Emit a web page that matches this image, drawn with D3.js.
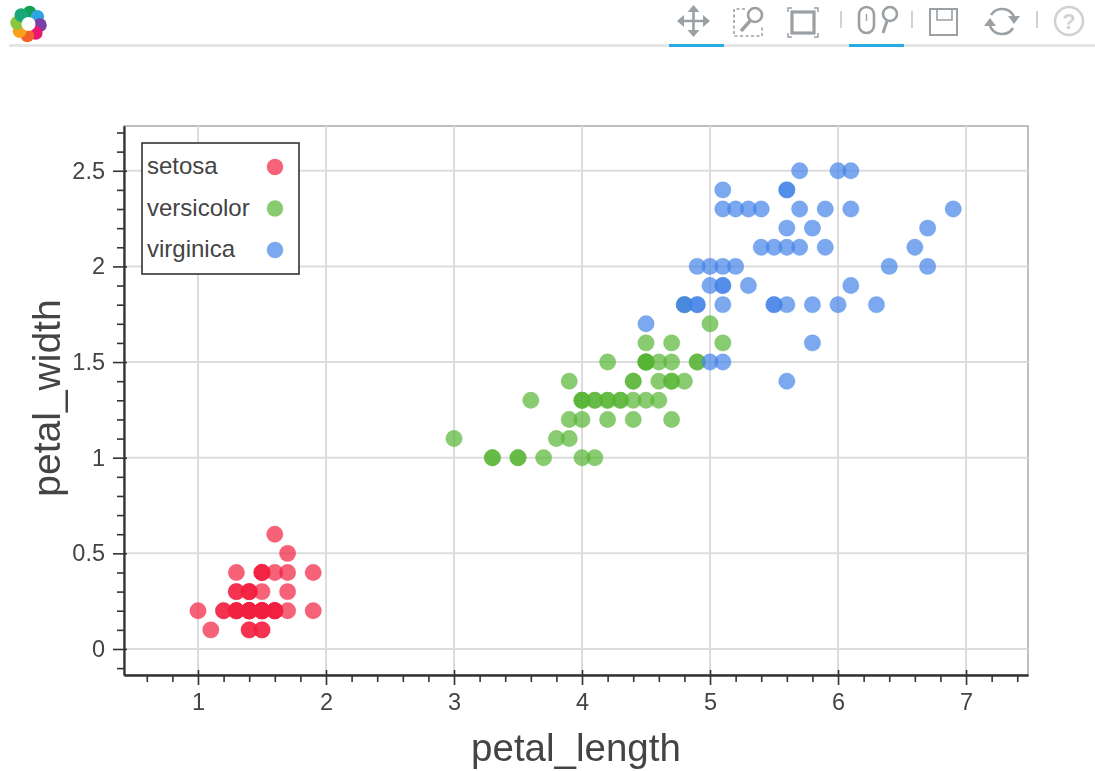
<!DOCTYPE html>
<html>
<head>
<meta charset="utf-8">
<script src="https://cdn.jsdelivr.net/npm/d3@7"></script>
<style>
    html, body { margin: 0; padding: 0; background: #fff; }
    svg { display: block; filter: blur(0.65px); font-family: "Liberation Sans", sans-serif; }
</style>
</head>
<body>
<div id="chart"></div>
<script>
const setosaLength = [1.4,1.4,1.3,1.5,1.4,1.7,1.4,1.5,1.4,1.5,1.5,1.6,1.4,1.1,1.2,1.5,1.3,1.4,1.7,1.5,1.7,1.5,1.0,1.7,1.9,1.6,1.6,1.5,1.4,1.6,1.6,1.5,1.5,1.4,1.5,1.2,1.3,1.4,1.3,1.5,1.3,1.3,1.3,1.6,1.9,1.4,1.6,1.4,1.5,1.4];
const setosaWidth = [0.2,0.2,0.2,0.2,0.2,0.4,0.3,0.2,0.2,0.1,0.2,0.2,0.1,0.1,0.2,0.4,0.4,0.3,0.3,0.3,0.2,0.4,0.2,0.5,0.2,0.2,0.4,0.2,0.2,0.2,0.2,0.4,0.1,0.2,0.2,0.2,0.2,0.1,0.2,0.2,0.3,0.3,0.2,0.6,0.4,0.3,0.2,0.2,0.2,0.2];
const versicolorLength = [4.7,4.5,4.9,4.0,4.6,4.5,4.7,3.3,4.6,3.9,3.5,4.2,4.0,4.7,3.6,4.4,4.5,4.1,4.5,3.9,4.8,4.0,4.9,4.7,4.3,4.4,4.8,5.0,4.5,3.5,3.8,3.7,3.9,5.1,4.5,4.5,4.7,4.4,4.1,4.0,4.4,4.6,4.0,3.3,4.2,4.2,4.2,4.3,3.0,4.1];
const versicolorWidth = [1.4,1.5,1.5,1.3,1.5,1.3,1.6,1.0,1.3,1.4,1.0,1.5,1.0,1.4,1.3,1.4,1.5,1.0,1.5,1.1,1.8,1.3,1.5,1.2,1.3,1.4,1.4,1.7,1.5,1.0,1.1,1.0,1.2,1.6,1.5,1.6,1.5,1.3,1.3,1.3,1.2,1.4,1.2,1.0,1.3,1.2,1.3,1.3,1.1,1.3];
const virginicaLength = [6.0,5.1,5.9,5.6,5.8,6.6,4.5,6.3,5.8,6.1,5.1,5.3,5.5,5.0,5.1,5.3,5.5,6.7,6.9,5.0,5.7,4.9,6.7,4.9,5.7,6.0,4.8,4.9,5.6,5.8,6.1,6.4,5.6,5.1,5.6,6.1,5.6,5.5,4.8,5.4,5.6,5.1,5.1,5.9,5.7,5.2,5.0,5.2,5.4,5.1];
const virginicaWidth = [2.5,1.9,2.1,1.8,2.2,2.1,1.7,1.8,1.8,2.5,2.0,1.9,2.1,2.0,2.4,2.3,1.8,2.2,2.3,1.5,2.3,2.0,2.0,1.8,2.1,1.8,1.8,1.8,2.1,1.6,1.9,2.0,2.2,1.5,1.4,2.3,2.4,1.8,1.8,2.1,2.4,2.3,1.9,2.3,2.5,2.3,1.9,2.0,2.3,1.8];

const speciesNames = ["setosa", "versicolor", "virginica"];
const speciesColors = ["#f2203e", "#57b534", "#4583e8"];
const speciesLengths = [setosaLength, versicolorLength, virginicaLength];
const speciesWidths = [setosaWidth, versicolorWidth, virginicaWidth];

const xMajor = [1, 2, 3, 4, 5, 6, 7];
const yMajor = [0, 0.5, 1, 1.5, 2, 2.5];

const width = 1095;
const height = 771;
const frame = { left: 124, right: 1028, top: 126, bottom: 675 };
const textColor = "#444";

const x = d3.scaleLinear().domain([0.422, 7.484]).range([frame.left, frame.right]);
const y = d3.scaleLinear().domain([-0.136, 2.734]).range([frame.bottom, frame.top]);

// minor ticks: 5 per major interval in both axes
const xMinor = d3.range(0.6, 7.41, 0.2).filter(v => Math.abs(v - Math.round(v)) > 0.01);
const yMinor = d3.range(-0.1, 2.71, 0.1).filter(v => Math.abs(v * 2 - Math.round(v * 2)) > 0.01);

const svg = d3.select("#chart").append("svg")
    .attr("width", width)
    .attr("height", height);

// toolbar
const toolbar = svg.append("g");
toolbar.append("line").attr("x1", 9).attr("x2", 1095).attr("y1", 45.5).attr("y2", 45.5)
    .attr("stroke", "#e6e6e6").attr("stroke-width", 3);
[[669, 724], [849, 904]].forEach(([a, b]) => {
    toolbar.append("line").attr("x1", a).attr("x2", b).attr("y1", 45.5).attr("y2", 45.5)
        .attr("stroke", "#26aae1").attr("stroke-width", 3);
});

// logo: ring of eight coloured petals, clockwise from the top
const logoColors = ["#12a150", "#2ea6e0", "#7b3fa8", "#e8176f", "#f4602a", "#f9a11b", "#8cc63f", "#19a979"];
const logo = toolbar.append("g").attr("transform", "translate(28.5,24)");
logo.selectAll("circle").data(logoColors).enter().append("circle")
    .attr("cx", (d, i) => 11.5 * Math.sin(i * Math.PI / 4 + 0.1))
    .attr("cy", (d, i) => -11.5 * Math.cos(i * Math.PI / 4 + 0.1))
    .attr("r", 6.8)
    .attr("fill", d => d);
logo.append("circle").attr("r", 7).attr("fill", "#fff");

const iconGrey = "#9aa0a3";
const icons = toolbar.append("g").attr("fill", "none").attr("stroke", iconGrey).attr("stroke-width", 2.6);
// pan
icons.append("path").attr("d", "M679 21H708M693.5 7V35");
icons.append("path").attr("fill", iconGrey).attr("stroke", "none")
    .attr("d", "M693.5 5l6 7h-12zM693.5 37l6-7h-12zM677 21l7-6v12zM710 21l-7-6v12z");
// box zoom
icons.append("path").attr("stroke-width", 1.6).attr("stroke-dasharray", "3 2.5")
    .attr("d", "M745 9H734V36H762V25");
icons.append("circle").attr("cx", 755).attr("cy", 15).attr("r", 7);
icons.append("path").attr("stroke-width", 3.4).attr("d", "M750 21L741 31");
// box select
icons.append("rect").attr("x", 792).attr("y", 12).attr("width", 22).attr("height", 21).attr("stroke-width", 3.2);
icons.append("path").attr("stroke-width", 1.5)
    .attr("d", "M788 12V8H792M814 8H818V12M818 33V37H814M792 37H788V33");
// wheel zoom
icons.append("rect").attr("x", 859).attr("y", 7).attr("width", 15).attr("height", 26).attr("rx", 7.5);
icons.append("path").attr("stroke-width", 1.4).attr("d", "M866.5 14V21");
icons.append("circle").attr("cx", 890).attr("cy", 14).attr("r", 7);
icons.append("path").attr("stroke-width", 3).attr("d", "M887 21L883 33");
// save
icons.append("path").attr("stroke-width", 2).attr("d", "M930 9H957V35H930Z");
icons.append("path").attr("stroke-width", 1.6).attr("d", "M937 9V20H952V9");
// refresh
icons.append("path").attr("d", "M991 15A13 13 0 0 1 1014 17M1013 28A13 13 0 0 1 990 26");
icons.append("path").attr("fill", iconGrey).attr("stroke", "none")
    .attr("d", "M1008 16H1020L1014 24ZM984 26H996L990 18Z");
// help
icons.append("circle").attr("cx", 1069).attr("cy", 21).attr("r", 14).attr("stroke", "#cfd2d4");
toolbar.append("text").attr("x", 1069).attr("y", 29).attr("text-anchor", "middle")
    .attr("font-size", 22).attr("font-weight", "bold").attr("fill", "#cfd2d4").text("?");
// separators
[[841, 11, 28], [912, 11, 28], [1037, 11, 28]].forEach(([sx, y0, y1]) => {
    toolbar.append("line").attr("x1", sx).attr("x2", sx).attr("y1", y0).attr("y2", y1)
        .attr("stroke", "#c4c7c9").attr("stroke-width", 1.6);
});

// frame + grid
svg.append("rect")
    .attr("x", frame.left).attr("y", frame.top)
    .attr("width", frame.right - frame.left).attr("height", frame.bottom - frame.top)
    .attr("fill", "#fff").attr("stroke", "#b0b0b0").attr("stroke-width", 1.6);

const grid = svg.append("g").attr("stroke", "#dcdcdc").attr("stroke-width", 2);
grid.selectAll("line.gx").data(xMajor).enter().append("line").attr("class", "gx")
    .attr("x1", d => x(d)).attr("x2", d => x(d)).attr("y1", frame.top).attr("y2", frame.bottom);
grid.selectAll("line.gy").data(yMajor).enter().append("line").attr("class", "gy")
    .attr("x1", frame.left).attr("x2", frame.right).attr("y1", d => y(d)).attr("y2", d => y(d));

// points
speciesNames.forEach((name, i) => {
    svg.append("g").selectAll("circle")
        .data(speciesLengths[i].map((v, j) => [v, speciesWidths[i][j]]))
        .enter().append("circle")
        .attr("cx", d => x(d[0]))
        .attr("cy", d => y(d[1]))
        .attr("r", 8.2)
        .attr("fill", speciesColors[i])
        .attr("fill-opacity", 0.7)
        .attr("stroke", speciesColors[i])
        .attr("stroke-opacity", 0.25)
        .attr("stroke-width", 1);
});

// axes
const xAxisG = svg.append("g").attr("transform", `translate(0,${frame.bottom})`);
xAxisG.append("g").call(d3.axisBottom(x).tickValues(xMinor).tickSize(7).tickSizeOuter(0).tickFormat(""));
const xMajorG = xAxisG.append("g").call(d3.axisBottom(x).tickValues(xMajor).tickSize(10).tickSizeOuter(0).tickPadding(8).tickFormat(d3.format("~g")));

const yAxisG = svg.append("g").attr("transform", `translate(${frame.left},0)`);
yAxisG.append("g").call(d3.axisLeft(y).tickValues(yMinor).tickSize(7).tickSizeOuter(0).tickFormat(""));
const yMajorG = yAxisG.append("g").call(d3.axisLeft(y).tickValues(yMajor).tickSize(11).tickSizeOuter(0).tickPadding(8).tickFormat(d3.format("~g")));

// major ticks poke a few px into the plot
svg.selectAll("g.tick line").attr("stroke", "#333").attr("stroke-width", 1.6);
xMajorG.selectAll("g.tick line").attr("y1", -5);
yMajorG.selectAll("g.tick line").attr("x1", 3);
svg.selectAll("path.domain").attr("stroke", "#333").attr("stroke-width", 1.8);
svg.selectAll("g.tick text").attr("font-size", 23.5).attr("fill", textColor)
    .attr("font-family", "Liberation Sans");

svg.append("text")
    .attr("x", 576).attr("y", 761)
    .attr("text-anchor", "middle")
    .attr("font-size", 38.5).attr("fill", textColor)
    .text("petal_length");

svg.append("text")
    .attr("transform", "translate(60,398) rotate(-90)")
    .attr("text-anchor", "middle")
    .attr("font-size", 39).attr("fill", textColor)
    .text("petal_width");

// legend
const legend = svg.append("g");
legend.append("rect")
    .attr("x", 142).attr("y", 143).attr("width", 157).attr("height", 131)
    .attr("fill", "#fff").attr("stroke", "#333").attr("stroke-width", 1.6);
const legendY = d3.scalePoint().domain(speciesNames).range([167, 250]);
speciesNames.forEach((name, i) => {
    legend.append("text")
        .attr("x", 147).attr("y", legendY(name) + 7)
        .attr("font-size", 24).attr("fill", textColor)
        .text(name);
    legend.append("circle")
        .attr("cx", 275).attr("cy", legendY(name)).attr("r", 8)
        .attr("fill", speciesColors[i]).attr("fill-opacity", 0.7)
        .attr("stroke", speciesColors[i]).attr("stroke-opacity", 0.25);
});
</script>
</body>
</html>
